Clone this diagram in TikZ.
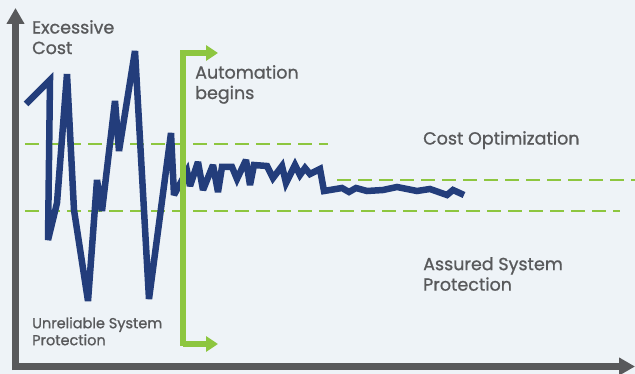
\documentclass[tikz,border=0pt]{standalone}
\usepackage{fontspec}
\setmainfont{Poppins}
\newfontfamily\chartfont{Poppins}[FakeBold=0.9]
\usetikzlibrary{arrows.meta}
\definecolor{bgcol}{HTML}{EEF3F7}
\definecolor{axiscol}{HTML}{58595B}
\definecolor{autogreen}{HTML}{8DC63F}
\definecolor{costblue}{HTML}{233D7B}
\tikzset{
  axisline/.style={draw=axiscol, line width=7pt, -{Triangle[length=16pt,width=17pt]}},
  autoline/.style={draw=autogreen, line width=6pt, -{Triangle[length=12pt,width=15pt]}},
  band/.style={draw=autogreen, line width=2.6pt, dash pattern=on 14pt off 7pt},
  costline/.style={draw=costblue, line width=6.5pt, line join=miter, miter limit=3},
  label/.style={text=axiscol, font=\chartfont\fontsize{17.5}{20.5}\selectfont, align=left, anchor=north west, inner sep=0pt},
  smalllabel/.style={label, font=\chartfont\fontsize{14.5}{17}\selectfont}
}
\begin{document}
\begin{tikzpicture}[x=1pt,y=-1pt]
  \fill[bgcol] (0,0) rectangle (635,374);
  \useasboundingbox (0,0) rectangle (635,374);
  % bands
  \draw[band] (25,144) -- (328,144);
  \draw[band] (25,211) -- (620,211);
  \draw[band] (337,180) -- (635,180);
  % cost curve
  \draw[costline] (26,104) -- (50,80) -- (48,240) -- (57,203) -- (67,74)
    -- (74,210) -- (88,301) -- (97,180) -- (102,211) -- (115,101) -- (119,151)
    -- (135,51) -- (149,299) -- (171,133) -- (174,195) -- (187,171) -- (190,186)
    -- (198,162) -- (203,190) -- (213,165) -- (218,192) -- (222,167) -- (232,167)
    -- (237,179) -- (246,160) -- (250,185) -- (254,165) -- (267,166) -- (273,178)
    -- (282,166) -- (286,183) -- (295,165) -- (300,175) -- (305,168) -- (310,174)
    -- (320,169) -- (324,191) -- (342,188) -- (349,192) -- (356,188) -- (367,191)
    -- (383,190) -- (397,187) -- (417,191) -- (430,189) -- (447,195) -- (453,190)
    -- (464,195);
  % automation bracket
  \draw[autoline] (183,346) -- (183,53) -- (218,53);
  \draw[autoline] (183,344) -- (218,344);
  % axes
  \draw[axisline] (15.5,370) -- (15.5,8);
  \draw[axisline] (12,366.5) -- (635,366.5);
  % labels
  \node[label] (excess) at (32,20) {Excessive\\Cost};
  \node[label] (autom) at (195,65) {Automation\\begins};
  \node[label] (optim) at (423,131) {Cost Optimization};
  \node[label] (assured) at (423,257) {Assured System\\Protection};
  \node[smalllabel] (unrel) at (32,317) {Unreliable System\\Protection};
\end{tikzpicture}
\end{document}
